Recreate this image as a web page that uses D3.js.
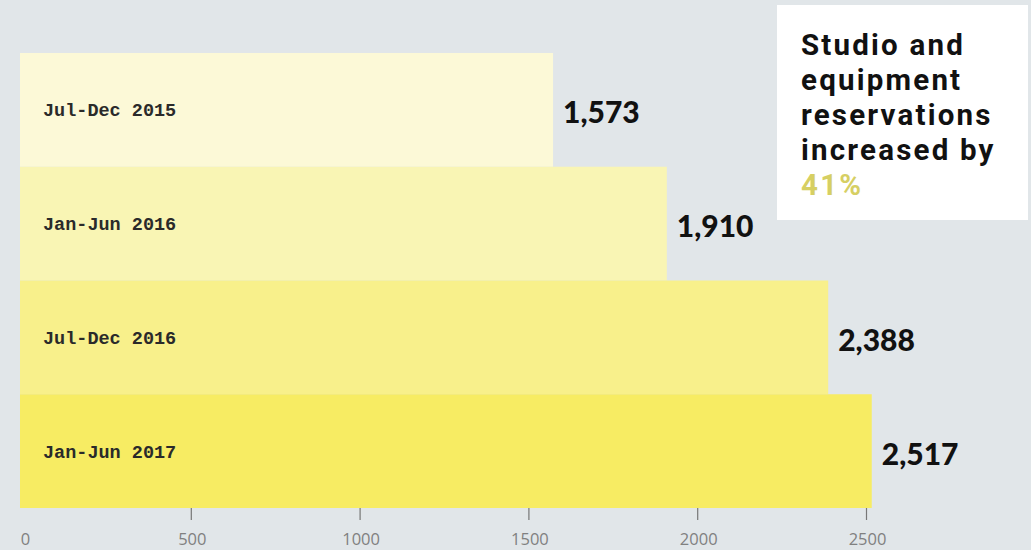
<!DOCTYPE html>
<html>
<head>
<meta charset="utf-8">
<script src="https://cdn.jsdelivr.net/npm/d3@7"></script>
<style>
  body { margin: 0; background: #e1e6e9; }
  svg { display: block; }
</style>
</head>
<body>
<div id="container"></div>
<script>
/* CONSTANTS AND GLOBALS */
const width = 1031,
  height = 550,
  margin = {top: 53, right: 30, bottom: 42, left: 22};

// data
const periods = ["Jul-Dec 2015", "Jan-Jun 2016", "Jul-Dec 2016", "Jan-Jun 2017"];
const reservations = [1573, 1910, 2388, 2517];
const barColors = ["#fcf9d7", "#f9f5b4", "#f8f08b", "#f7ec63"];
const tickValues = [0, 500, 1000, 1500, 2000, 2500];
const titleLines = ["Studio and", "equipment", "reservations", "increased by"];
const highlight = "41%";

const data = periods.map((p, i) => ({period: p, count: reservations[i], color: barColors[i]}));

/* SCALES */
const xScale = d3.scaleLinear()
  .domain([0, 2500])
  .range([margin.left, 866]);

const yScale = d3.scaleBand()
  .domain(periods)
  .range([margin.top, height - margin.bottom])
  .padding(0);

const svg = d3.select("#container")
  .append("svg")
  .attr("width", width)
  .attr("height", height);

svg.append("rect")
  .attr("width", width)
  .attr("height", height)
  .attr("fill", "#e1e6e9");

// bars
svg.selectAll("rect.bar")
  .data(data)
  .join("rect")
  .attr("class", "bar")
  .attr("x", xScale(0) - 2)
  .attr("y", d => yScale(d.period))
  .attr("width", d => xScale(d.count) - xScale(0) + 2)
  .attr("height", yScale.bandwidth())
  .attr("fill", d => d.color);

// category labels inside bars
svg.selectAll("text.cat")
  .data(data)
  .join("text")
  .attr("class", "cat")
  .attr("x", 43)
  .attr("y", d => yScale(d.period) + yScale.bandwidth() / 2)
  .attr("dy", "0.35em")
  .attr("font-family", "Liberation Mono, Courier New, monospace")
  .attr("font-weight", "bold")
  .attr("font-size", 18.5)
  .attr("fill", "#2a2a2a")
  .text(d => d.period);

// value labels
svg.selectAll("text.val")
  .data(data)
  .join("text")
  .attr("class", "val")
  .attr("x", d => xScale(d.count) + 10)
  .attr("y", d => yScale(d.period) + yScale.bandwidth() / 2 + 3)
  .attr("dy", "0.35em")
  .attr("font-family", "Lato, sans-serif")
  .attr("font-weight", 900)
  .attr("font-size", 30)
  .attr("fill", "#111")
  .text(d => d3.format(",")(d.count));

// x axis
const xAxis = d3.axisBottom(xScale)
  .tickValues(tickValues)
  .tickSize(12)
  .tickPadding(13)
  .tickFormat(d3.format("d"));

const gx = svg.append("g")
  .attr("transform", `translate(0,${height - margin.bottom})`)
  .call(xAxis);

gx.select(".domain").remove();
gx.selectAll(".tick line")
  .attr("stroke", "#777")
  .attr("stroke-width", 1.2)
  .attr("opacity", d => d === 0 ? 0 : 1);
gx.selectAll(".tick text")
  .attr("font-family", "Open Sans, sans-serif")
  .attr("font-size", 16.5)
  .attr("fill", "#808080")
  .attr("dx", d => d === 0 ? 3 : 1);

// title box
svg.append("rect")
  .attr("x", 777)
  .attr("y", 5)
  .attr("width", 251)
  .attr("height", 215)
  .attr("fill", "#fff");

// one text per line so each line keeps its own box
const allLines = titleLines.concat([highlight]);
svg.selectAll("text.title")
  .data(allLines)
  .join("text")
  .attr("class", "title")
  .attr("x", 801)
  .attr("y", (d, i) => 55 + i * 35)
  .attr("font-family", "Roboto, sans-serif")
  .attr("font-weight", 700)
  .attr("font-size", 29.5)
  .attr("letter-spacing", 2.2)
  .attr("fill", d => d === highlight ? "#d6cf63" : "#111")
  .text(d => d);
</script>
</body>
</html>
